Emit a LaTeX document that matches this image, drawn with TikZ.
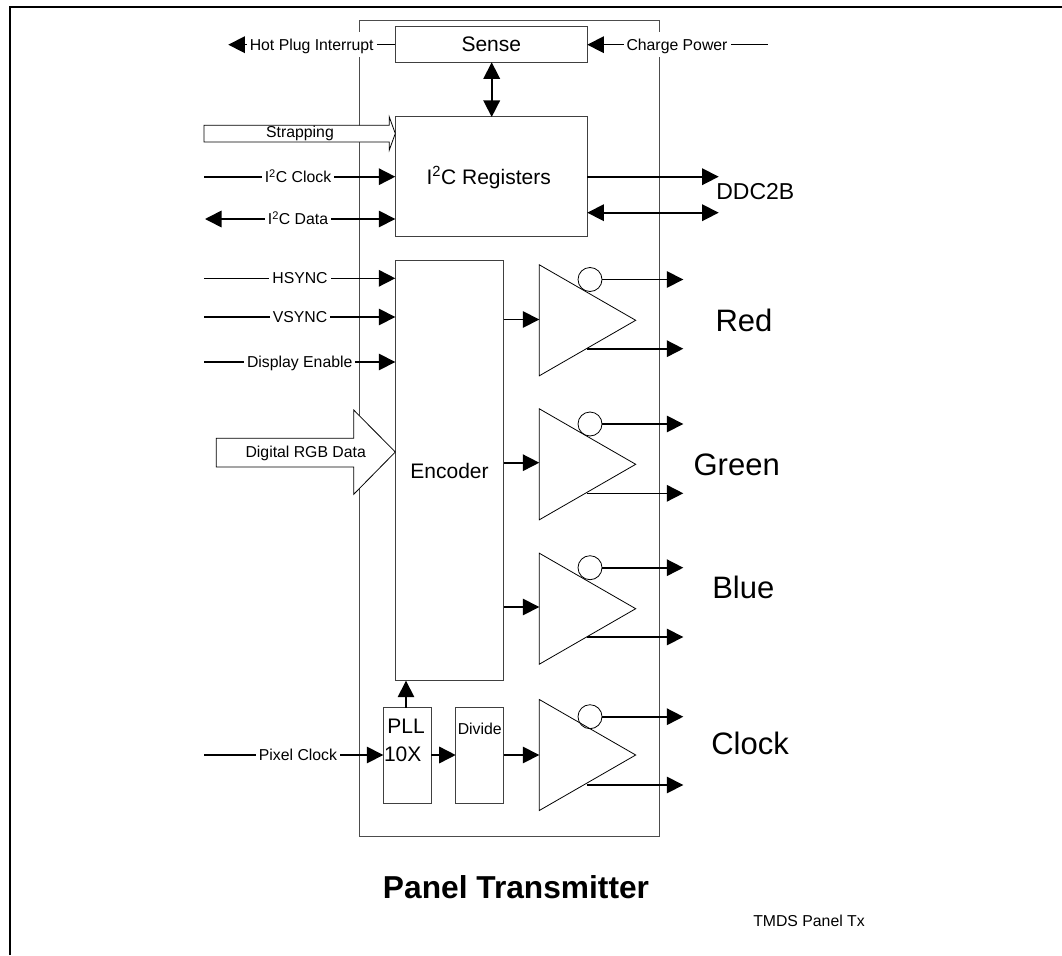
\documentclass[tikz,border=0pt]{standalone}
\usepackage{fontspec}
\setmainfont{Liberation Sans}
\usetikzlibrary{arrows.meta,shapes.geometric}
\tikzset{
  sheet/.style={line width=2pt,black},
  frame/.style={draw=black!70,line width=1pt},
  blockbox/.style={draw=black!75,line width=1pt,inner sep=0pt,outer sep=0pt,font=\fontsize{21}{25}\selectfont,text height=15pt,text depth=0pt},
  amp/.style={draw=black,line width=.8pt,isosceles triangle,isosceles triangle stretches,shape border rotate=0,minimum width=111pt,minimum height=96.4pt,inner sep=0pt,outer sep=0pt,anchor=apex},
  bubble/.style={draw=black,line width=.8pt,circle,minimum size=24pt,inner sep=0pt,outer sep=0pt},
  wire/.style={line width=1.6pt,black},
  arr/.style={wire,-{Triangle[length=16.5pt,width=16.5pt]}},
  barr/.style={wire,{Triangle[length=16.5pt,width=16.5pt]}-{Triangle[length=16.5pt,width=16.5pt]}},
  lab/.style={fill=white,inner xsep=3pt,inner ysep=0pt,minimum height=25pt,font=\fontsize{15.8}{18}\selectfont,text height=11.3pt,text depth=0pt},
  plain/.style={inner sep=0pt,text depth=0pt},
  small/.style={plain,font=\fontsize{15.8}{18}\selectfont,text height=11.3pt},
  big/.style={plain,font=\fontsize{21}{25}\selectfont,text height=15pt},
  huge/.style={plain,font=\fontsize{31}{36}\selectfont,text height=22.2pt},
  hollow/.style={draw=black,fill=white,line width=.8pt,line join=miter},
}
\begin{document}
\begin{tikzpicture}[x=1pt,y=-1pt]
\useasboundingbox (0,0) rectangle (1062,955);
\draw[sheet] (10.3,955) -- (10.3,6.7) -- (1062,6.7);
\node[frame,minimum width=299.5pt,minimum height=815.3pt,inner sep=0pt,outer sep=0pt] (chip) at (509.3,428.4) {};

% blocks
\node[blockbox,minimum width=192pt,minimum height=36pt] (sense) at (491.3,44.3) {Sense};
\node[blockbox,minimum width=192pt,minimum height=119.7pt] (reg) at (491.3,176.85) {};
\node[big] (regt) at (488.7,176.7) {I\textsuperscript{2}C Registers};
\node[blockbox,minimum width=108.4pt,minimum height=420pt] (enc) at (449.5,470.7) {Encoder};
\node[blockbox,minimum width=48pt,minimum height=95.3pt] (pll) at (407.3,755.35) {};
\node[big] (pllt) at (406,725.7) {PLL};
\node[big] (pllx) at (402.7,754) {10X};
\node[blockbox,minimum width=48pt,minimum height=95.3pt] (div) at (479.7,755.35) {};
\node[small] (divt) at (479.7,729.3) {Divide};

% amplifiers
\node[amp] (ampR) at (635.7,320.3) {};
\node[amp] (ampG) at (635.7,464.3) {};
\node[amp] (ampB) at (635.7,608.7) {};
\node[amp] (ampC) at (635.7,755) {};
\node[bubble] (bubR) at (590,279.5) {};
\node[bubble] (bubG) at (590,424) {};
\node[bubble] (bubB) at (590,567.7) {};
\node[bubble] (bubC) at (590,716.7) {};

% free ends
\coordinate (hotE) at (228.3,44.7);
\coordinate (chgE) at (767.7,44.7);
\coordinate (clkE) at (204,176.7);
\coordinate (datE) at (205,219);
\coordinate (hsE) at (204,278.3);
\coordinate (vsE) at (204,317);
\coordinate (deE) at (204,362);
\coordinate (pxE) at (204,755);
\coordinate (ddcA) at (718.7,176.7);
\coordinate (ddcB) at (718.7,212.7);
\coordinate (oRt) at (683.3,279.5);
\coordinate (oRb) at (683.3,348.7);
\coordinate (oGt) at (683.3,424);
\coordinate (oGb) at (683.3,493.3);
\coordinate (oBt) at (683.3,567.7);
\coordinate (oBb) at (683.3,637);
\coordinate (oCt) at (683.3,716.7);
\coordinate (oCb) at (683.3,785);

% connectors
\draw[arr] (sense.west |- hotE) -- (hotE);
\draw[arr] (chgE) -- (sense.east |- chgE);
\draw[barr] (sense.south -| 491.7,0) -- (reg.north -| 491.7,0);
\draw[arr] (clkE) -- (reg.west |- clkE);
\draw[barr] (datE) -- (reg.west |- datE);
\draw[arr] (reg.east |- ddcA) -- (ddcA);
\draw[barr] (reg.east |- ddcB) -- (ddcB);
\draw[arr] (hsE) -- (enc.west |- hsE);
\draw[arr] (vsE) -- (enc.west |- vsE);
\draw[arr] (deE) -- (enc.west |- deE);
\draw[arr] (pxE) -- (pll.west |- pxE);
\draw[arr] (pll.east |- pxE) -- (div.west |- pxE);
\draw[arr] (div.east |- pxE) -- (ampC.west |- pxE);
\draw[arr] (pll.north -| 406,0) -- (enc.south -| 406,0);
\draw[arr] (enc.east |- 0,319.5) -- (ampR.west |- 0,319.5);
\draw[arr] (enc.east |- 0,462.7) -- (ampG.west |- 0,462.7);
\draw[arr] (enc.east |- 0,607) -- (ampB.west |- 0,607);
\draw[arr] (bubR.east) -- (oRt);
\draw[arr] (bubG.east) -- (oGt);
\draw[arr] (bubB.east) -- (oBt);
\draw[arr] (bubC.east) -- (oCt);
\draw[arr] (586.7,348.7) -- (oRb);
\draw[arr] (586.7,493.3) -- (oGb);
\draw[arr] (586.7,637) -- (oBb);
\draw[arr] (586.7,785) -- (oCb);

% block arrows
\draw[hollow] (204,125.3) -- (389.3,125.3) -- (389.3,117) -- (reg.west |- 0,133.5) -- (389.3,150) -- (389.3,142) -- (204,142) -- cycle;
\draw[hollow] (216.3,438.3) -- (353.7,438.3) -- (353.7,410) -- (enc.west |- 0,452) -- (353.7,494.3) -- (353.7,467) -- (216.3,467) -- cycle;

% labels
\node[lab] (hot) at (311.7,44.7) {Hot Plug Interrupt};
\node[lab] (chg) at (677,44.7) {Charge Power};
\node[small] (strap) at (300,131.7) {Strapping};
\node[lab] (clk) at (298,176.7) {I\textsuperscript{2}C Clock};
\node[lab] (dat) at (298,219) {I\textsuperscript{2}C Data};
\node[lab] (hs) at (300,277.5) {HSYNC};
\node[lab] (vs) at (300,316.5) {VSYNC};
\node[lab] (de) at (299.7,361.5) {Display Enable};
\node[small] (rgb) at (305.7,451.5) {Digital RGB Data};
\node[lab] (px) at (298,754.5) {Pixel Clock};
\node[plain,font=\fontsize{23}{27}\selectfont,text height=16.5pt] (ddc) at (755.3,191) {DDC2B};
\node[huge] (red) at (744,320) {Red};
\node[huge] (green) at (736.7,464) {Green};
\node[huge] (blue) at (743.3,587) {Blue};
\node[huge] (clock) at (750,743) {Clock};
\node[plain,font=\fontsize{31.7}{36}\selectfont\bfseries,text height=22.7pt] (title) at (516,887) {Panel Transmitter};
\node[plain,font=\fontsize{15.8}{18}\selectfont,text height=11.3pt] (tag) at (809,921) {TMDS Panel Tx};
\end{tikzpicture}
\end{document}
